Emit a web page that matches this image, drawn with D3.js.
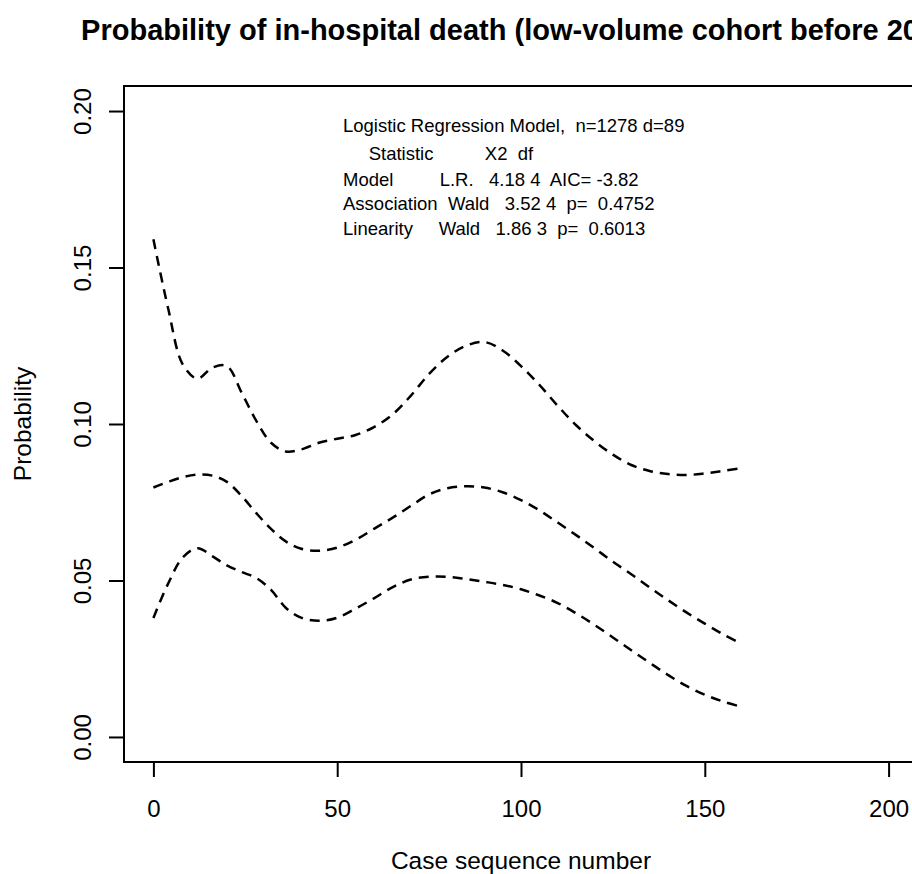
<!DOCTYPE html>
<html>
<head>
    <meta charset="utf-8">
    <title>Probability of in-hospital death</title>
    <script src="https://d3js.org/d3.v7.min.js"></script>
    <style>
        body { margin: 0; background: #fff; }
        svg { font-family: "Liberation Sans", Arial, Helvetica, sans-serif; }
    </style>
</head>
<body>
<div id="chart"></div>
<script>

    // case sequence numbers where the curves were read
    const caseSeq = [0, 4, 8, 12, 16, 20, 24, 28, 32, 36, 40, 45, 50, 55, 60, 65, 70, 75, 80,
        85, 90, 95, 100, 105, 110, 115, 120, 125, 130, 135, 140, 145, 150, 155, 160];

    // upper confidence limit
    const upper = [0.159, 0.137, 0.119, 0.1145, 0.118, 0.1185, 0.110, 0.101, 0.094, 0.0912, 0.0918,
        0.094, 0.0953, 0.0965, 0.099, 0.103, 0.109, 0.116, 0.1215, 0.125, 0.1262, 0.1235, 0.1185,
        0.1125, 0.1058, 0.0996, 0.0945, 0.0902, 0.0869, 0.085, 0.084, 0.0837, 0.0842, 0.085, 0.0859];

    // predicted probability
    const estimate = [0.0797, 0.0815, 0.083, 0.0838, 0.0835, 0.0815, 0.077, 0.0715, 0.0665, 0.0625,
        0.0602, 0.0595, 0.0605, 0.063, 0.0665, 0.070, 0.0738, 0.0775, 0.0795, 0.0801, 0.0797,
        0.0782, 0.0757, 0.0724, 0.0685, 0.0645, 0.0603, 0.056, 0.052, 0.0478, 0.0437, 0.0398,
        0.0362, 0.0328, 0.0298];

    // lower confidence limit
    const lower = [0.038, 0.049, 0.0574, 0.0603, 0.0578, 0.0548, 0.0527, 0.0508, 0.047, 0.0413,
        0.0382, 0.0371, 0.0381, 0.041, 0.0443, 0.0478, 0.0503, 0.0512, 0.0512, 0.0505, 0.0496,
        0.0486, 0.0472, 0.0452, 0.0428, 0.0395, 0.0358, 0.0318, 0.0277, 0.0237, 0.0198, 0.0163,
        0.0135, 0.0113, 0.0096];

    const xTicks = [0, 50, 100, 150, 200];
    const yTicks = [0, 0.05, 0.10, 0.15, 0.20];

    const title = "Probability of in-hospital death (low-volume cohort before 2000)";
    const xLabel = "Case sequence number";
    const yLabel = "Probability";

    // model summary, printed as padded lines like R does
    const statLines = [
        "Logistic Regression Model,  n=1278 d=89",
        "     Statistic          X2  df",
        "Model         L.R.   4.18 4  AIC= -3.82",
        "Association  Wald   3.52 4  p=  0.4752",
        "Linearity     Wald   1.86 3  p=  0.6013"
    ];

    // page and plot box (right edge runs just past the window)
    const W = 912, H = 874;
    const box = { left: 124, top: 86, right: 918, bottom: 762 };

    const svg = d3.select("#chart")
        .append("svg")
            .attr("width", W)
            .attr("height", H);

    svg.append("rect")
        .attr("width", W)
        .attr("height", H)
        .attr("fill", "#fff");

    // R style ranges: data range stretched by 4%
    const x = d3.scaleLinear()
        .domain([-8, 208])
        .range([box.left, box.right]);

    const y = d3.scaleLinear()
        .domain([-0.008, 0.208])
        .range([box.bottom, box.top]);

    // plot box
    svg.append("rect")
        .attr("x", box.left)
        .attr("y", box.top)
        .attr("width", box.right - box.left)
        .attr("height", box.bottom - box.top)
        .attr("fill", "none")
        .attr("stroke", "#000")
        .attr("stroke-width", 2);

    // x axis
    const xAxis = svg.append("g")
        .attr("transform", `translate(0,${box.bottom})`)
        .call(d3.axisBottom(x).tickValues(xTicks).tickSize(15).tickPadding(23)
            .tickFormat(d3.format("d")));
    xAxis.select(".domain").remove();
    xAxis.selectAll(".tick line").attr("stroke-width", 2);
    xAxis.selectAll(".tick text")
        .attr("font-size", 24)
        .attr("font-family", null)
        .attr("fill", "#000");

    // y axis, labels turned like R's default
    const yAxis = svg.append("g")
        .attr("transform", `translate(${box.left},0)`)
        .call(d3.axisLeft(y).tickValues(yTicks).tickSize(15).tickFormat(d3.format(".2f")));
    yAxis.select(".domain").remove();
    yAxis.selectAll(".tick line").attr("stroke-width", 2);
    yAxis.selectAll(".tick text")
        .attr("font-size", 24)
        .attr("font-family", null)
        .attr("fill", "#000")
        .attr("x", null)
        .attr("dy", null)
        .attr("text-anchor", "middle")
        .attr("transform", "translate(-33,0) rotate(-90)");

    // titles
    svg.append("text")
        .attr("x", (box.left + box.right) / 2)
        .attr("y", 40)
        .attr("text-anchor", "middle")
        .attr("font-size", 29)
        .attr("font-weight", "bold")
        .text(title);

    svg.append("text")
        .attr("x", (box.left + box.right) / 2)
        .attr("y", 869)
        .attr("text-anchor", "middle")
        .attr("font-size", 24.5)
        .text(xLabel);

    svg.append("text")
        .attr("transform", `translate(31,${(box.top + box.bottom) / 2}) rotate(-90)`)
        .attr("text-anchor", "middle")
        .attr("font-size", 24.5)
        .text(yLabel);

    // the three dashed curves
    const line = d3.line()
        .x((d, i) => x(caseSeq[i]))
        .y(d => y(d))
        .curve(d3.curveCatmullRom);

    [upper, estimate, lower].forEach(series => {
        svg.append("path")
            .datum(series)
            .attr("fill", "none")
            .attr("stroke", "#000")
            .attr("stroke-width", 2.5)
            .attr("stroke-dasharray", "10,7")
            .attr("d", line);
    });

    // model summary text block
    const baselines = [132, 160, 186, 210, 235];
    svg.append("g")
        .attr("font-size", 18.5)
        .selectAll("text")
        .data(statLines)
        .join("text")
            .attr("x", 343)
            .attr("y", (d, i) => baselines[i])
            .attr("xml:space", "preserve")
            .style("white-space", "pre")
            .text(d => d);

</script>
</body>
</html>
